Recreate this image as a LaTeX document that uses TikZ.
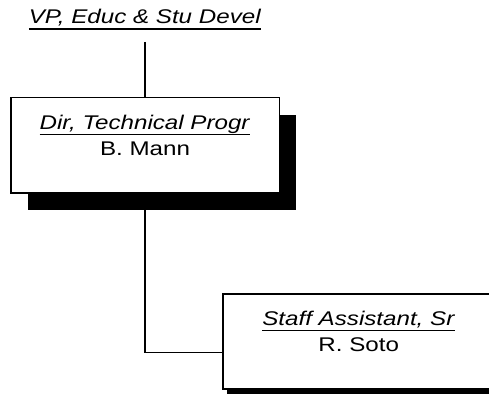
\documentclass[tikz,border=0pt]{standalone}
\usepackage{fontspec}
\setmainfont{Liberation Sans}[FakeStretch=1.22]
\usetikzlibrary{shadows}

\newsavebox{\ulbox}
\newcommand{\ulit}[1]{\sbox{\ulbox}{\textit{#1}}\rlap{\rule[-5.6pt]{\wd\ulbox}{1.7pt}}\usebox{\ulbox}}

\tikzset{
  orgbox/.style={draw, fill=white, line width=1.5pt, inner sep=0pt, align=center,
    minimum width=268.5pt, anchor=north west, font=\fontsize{19.8}{26}\selectfont},
  link/.style={line width=1.5pt}
}
\newcommand{\orgtext}[2]{\rule{0pt}{32pt}\ulit{#1}\\#2\rule[-37pt]{0pt}{37pt}}

\begin{document}
\begin{tikzpicture}[x=1pt, y=-1pt]
            \useasboundingbox (0,0) rectangle (489,393);

            % leiding
            \node[anchor=base, font=\fontsize{19.8}{26}\selectfont] (vp) at (145,24)
                {\ulit{VP, Educ \& Stu Devel}};

            % vakken
            \node[orgbox, drop shadow={shadow xshift=17pt, shadow yshift=-17pt, opacity=1, fill=black}]
                (dir) at (10,97) {\orgtext{Dir, Technical Progr}{B. Mann}};
            \node[orgbox, minimum width=272pt, drop shadow={shadow xshift=4.5pt, shadow yshift=-5pt, opacity=1, fill=black}]
                (staff) at (222,293) {\orgtext{Staff Assistant, Sr}{R. Soto}};

            % lijnen
            \draw[link] ([yshift=-18pt]vp.base) -- (dir.north);
            \draw[link] (dir.south) |- ([yshift=-11pt]staff.west);
        \end{tikzpicture}
\end{document}
